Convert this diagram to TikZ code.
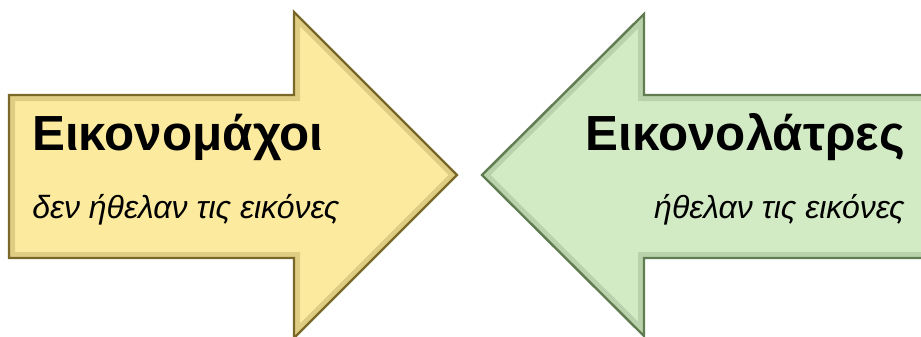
\documentclass[tikz,border=0pt]{standalone}
\usepackage{fontspec}
\setmainfont{Liberation Sans}
\definecolor{yfill}{RGB}{252,234,158}
\definecolor{yline}{RGB}{122,104,40}
\definecolor{gfill}{RGB}{211,235,197}
\definecolor{gline}{RGB}{96,124,80}
\def\yarrow{(9, 95) -- (294, 95) -- (294, 12) -- (457, 175) -- (294, 338) -- (294, 258) -- (9, 258) -- cycle}
\def\garrow{(930, 95) -- (644, 95) -- (644, 14) -- (482, 175) -- (644, 336) -- (644, 258) -- (930, 258) -- cycle}
\begin{document}
\begin{tikzpicture}[x=0.75pt, y=-0.75pt,
    arrowbody/.style={line width=1.8pt, line join=miter},
    bevel/.style={line width=9pt, opacity=0.22, line join=miter},
    title/.style={font=\fontsize{37}{40}\selectfont\bfseries, inner sep=0pt},
    subtitle/.style={font=\fontsize{24}{28}\selectfont\itshape, inner sep=0pt}]
    \useasboundingbox (0, 0) rectangle (921, 336);
    \clip (0, 0) rectangle (921, 336);
    % yellow arrow
    \fill[yfill] \yarrow;
    \begin{scope}
        \clip \yarrow;
        \draw[bevel, yline] \yarrow;
    \end{scope}
    \draw[arrowbody, yline] \yarrow;
    % green arrow
    \fill[gfill] \garrow;
    \begin{scope}
        \clip \garrow;
        \draw[bevel, gline] \garrow;
    \end{scope}
    \draw[arrowbody, gline] \garrow;
    \node[title, anchor=base west] (yt) at (32, 150) {Εικονομάχοι};
    \node[subtitle, anchor=base west] (ys) at (32, 218) {δεν ήθελαν τις εικόνες};
    \node[title, anchor=base east] (gt) at (905, 150) {Εικονολάτρες};
    \node[subtitle, anchor=base east] (gs) at (905, 218) {ήθελαν τις εικόνες};
\end{tikzpicture}
\end{document}
